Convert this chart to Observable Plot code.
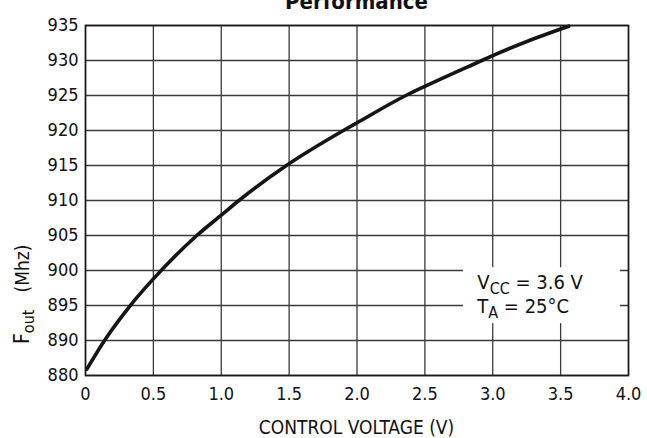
<!DOCTYPE html>
<html>
<head>
<meta charset="utf-8">
<script src="https://cdn.jsdelivr.net/npm/d3@7"></script>
<script src="https://cdn.jsdelivr.net/npm/@observablehq/plot@0.6"></script>
<style>
  html, body { margin: 0; padding: 0; background: white; }
</style>
</head>
<body>
<div id="chart"></div>
<script>
// Data
const voltage = [0.01, 0.14, 0.33, 0.5, 0.82, 1.0, 1.13, 1.48, 1.9, 2.0, 2.36, 2.5, 2.92, 3.0, 3.5, 3.56];
const fout    = [881.8, 890, 895, 898.8, 905, 907.9, 910, 915, 920, 921.1, 925, 926.3, 930, 930.7, 934.5, 934.9];
const xTicks = [0, 0.5, 1.0, 1.5, 2.0, 2.5, 3.0, 3.5, 4.0];
const yTicks = [880, 890, 895, 900, 905, 910, 915, 920, 925, 930, 935];
const titleText = "Performance";
const xLabel = "CONTROL VOLTAGE (V)";
const noteVcc = ["V", "CC", " = 3.6 V"];
const noteTa = ["T", "A", " = 25°C"];

const data = voltage.map((v, i) => ({v, f: fout[i]}));
const FONT = "'Liberation Sans Narrow', 'DejaVu Sans Condensed', 'DejaVu Sans', sans-serif";

const plot = Plot.plot({
  width: 647,
  height: 438,
  marginTop: 25,
  marginBottom: 63,
  marginLeft: 85,
  marginRight: 19,
  style: {fontFamily: FONT, fontSize: "18px", background: "white", color: "#111", fontStretch: "condensed"},
  x: {domain: [0, 4], ticks: xTicks, tickSize: 0, tickPadding: 12,
      tickFormat: d => d === 0 ? "0" : d3.format(".1f")(d), label: null},
  y: {type: "linear", domain: [880, 890, 935], range: [375, 340, 25],
      ticks: yTicks, tickSize: 0, tickPadding: 7, tickFormat: d => String(d), label: null},
  marks: [
    Plot.ruleX(xTicks, {stroke: "#3a3a3a", strokeWidth: 1.3}),
    Plot.ruleY(yTicks, {stroke: "#3a3a3a", strokeWidth: 1.3}),
    Plot.frame({stroke: "#1a1a1a", strokeWidth: 1.6}),
    Plot.line(data, {x: "v", y: "f", stroke: "#151515", strokeWidth: 3.6, curve: "monotone-x"})
  ]
});

document.getElementById("chart").appendChild(plot);

const svg = d3.select(plot);
const sx = plot.scale("x"), sy = plot.scale("y");
const X = v => sx.apply(v), Y = v => sy.apply(v);

// Title (cut off at the top, as in the reference)
svg.append("text")
  .attr("x", (X(0) + X(4)) / 2).attr("y", 9)
  .attr("text-anchor", "middle")
  .attr("font-family", FONT).attr("font-weight", "bold").attr("font-size", 22)
  .attr("fill", "#111")
  .text(titleText);

// X axis title
svg.append("text")
  .attr("x", (X(0) + X(4)) / 2).attr("y", 434)
  .attr("text-anchor", "middle")
  .attr("font-family", FONT).attr("font-size", 19).attr("fill", "#111")
  .text(xLabel);

// Y axis title with subscript
const yl = svg.append("text")
  .attr("transform", `translate(29, 344) rotate(-90)`)
  .attr("text-anchor", "start")
  .attr("font-family", FONT).attr("fill", "#111").attr("font-size", 21);
yl.append("tspan").text("F");
yl.append("tspan").attr("font-size", 16).attr("dy", 5).text("out");
yl.append("tspan").attr("font-size", 19).attr("dy", -5).text("\u2003(Mhz)");

// Annotation box covering grid lines
const bx1 = X(2.785), bx2 = X(3.94), by1 = Y(900.4), by2 = Y(892.4);
svg.append("rect")
  .attr("x", bx1).attr("y", by1).attr("width", bx2 - bx1).attr("height", by2 - by1)
  .attr("fill", "white");

function note(parts, xv, yv) {
  const t = svg.append("text")
    .attr("x", X(xv)).attr("y", Y(yv))
    .attr("text-anchor", "start")
    .attr("font-family", FONT).attr("font-size", 20).attr("fill", "#111");
  t.append("tspan").text(parts[0]);
  t.append("tspan").attr("font-size", 16).attr("dy", 5).text(parts[1]);
  t.append("tspan").attr("dy", -5).text(parts[2]);
}
note(noteVcc, 2.89, 897.3);
note(noteTa, 2.89, 893.9);
</script>
</body>
</html>
